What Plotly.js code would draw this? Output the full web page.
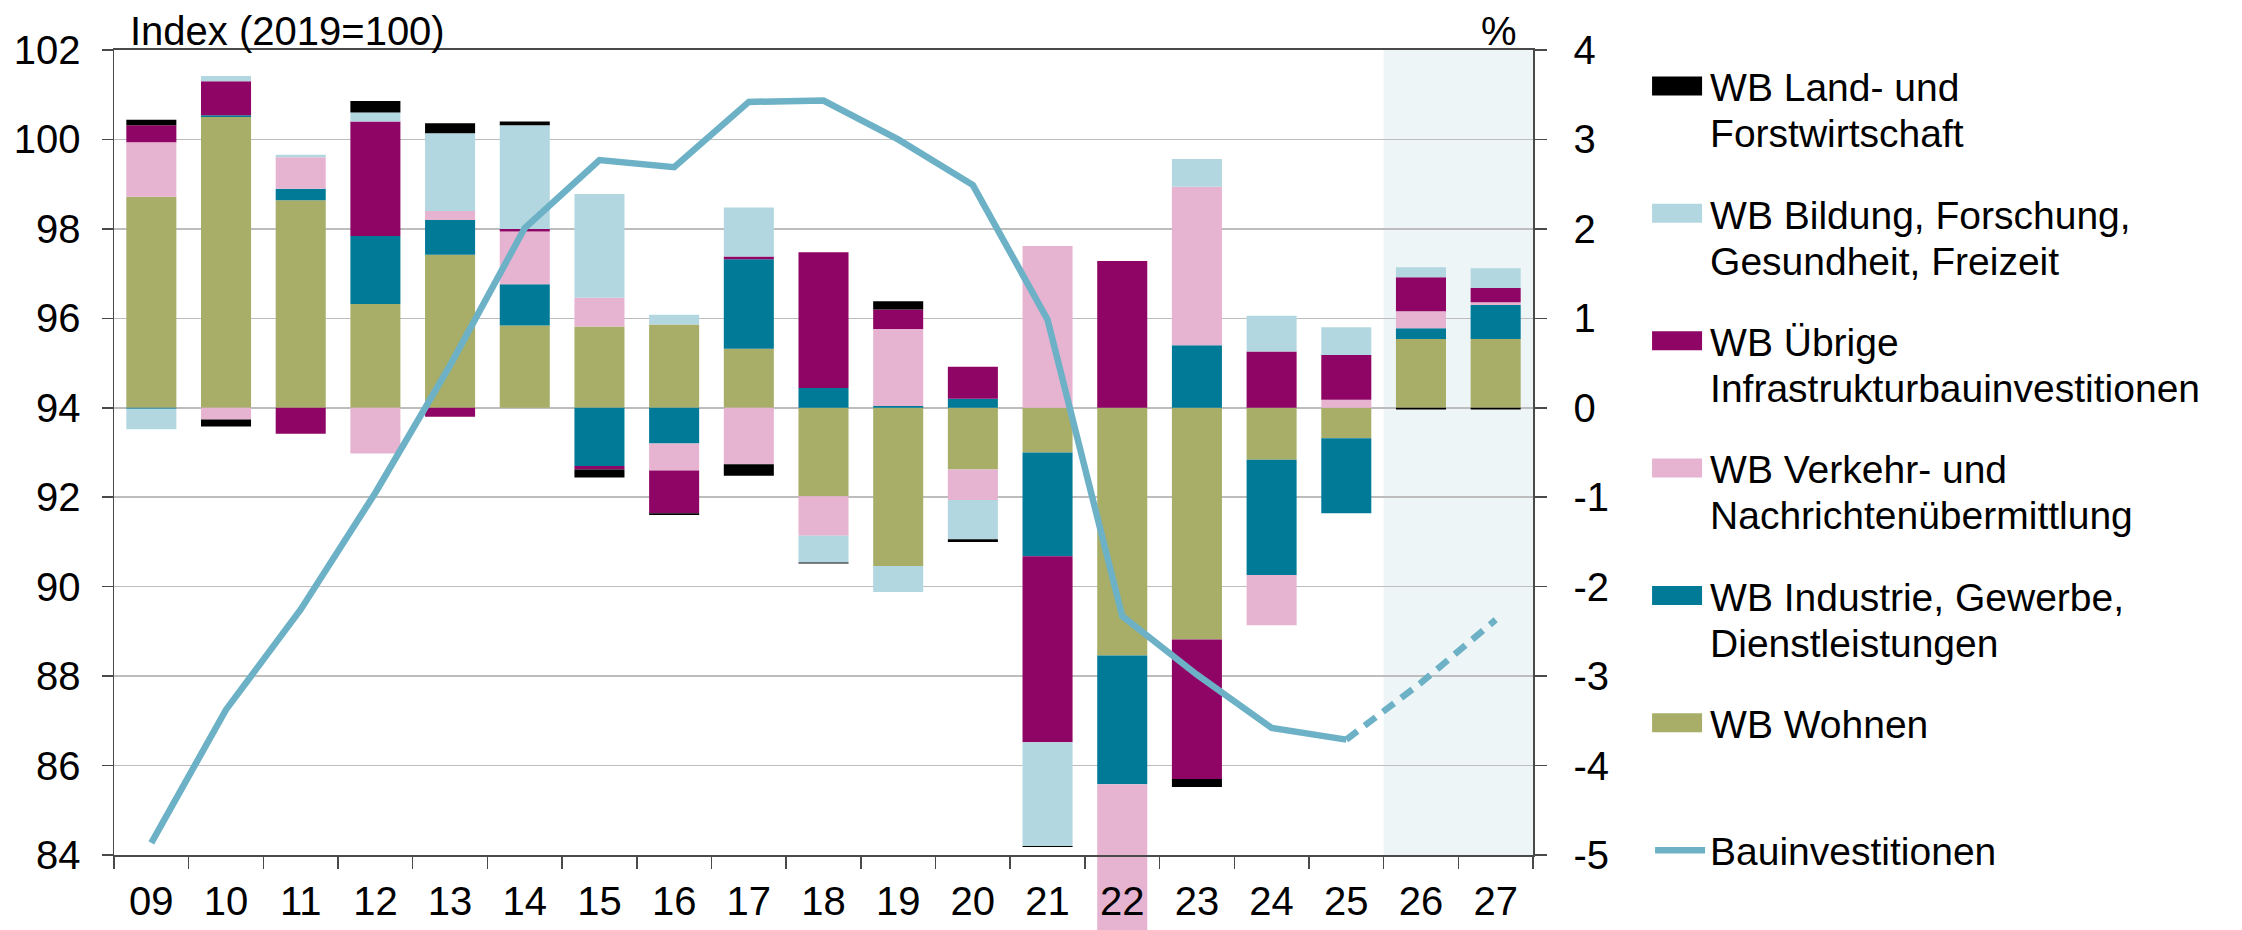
<!DOCTYPE html>
<html>
<head>
<meta charset="utf-8">
<script src="https://cdn.plot.ly/plotly-3.0.1.min.js"></script>
<style>
  html, body { margin: 0; padding: 0; background: #ffffff; overflow: hidden; }
  #chart { width: 2242px; height: 930px; }
</style>
</head>
<body>
<div id="chart"></div>
<script>
// ---- Data ----
const years = ['09','10','11','12','13','14','15','16','17','18','19','20','21','22','23','24','25','26','27'];

// Contributions to the change of construction investment, percentage points (right axis)
const wohnen    = [2.36, 3.25, 2.32, 1.16, 1.71, 0.92, 0.91, 0.93, 0.66, -0.99, -1.77, -0.69, -0.50, -2.77, -2.59, -0.58, -0.34, 0.77, 0.77];
const industrie = [-0.01, 0.02, 0.13, 0.76, 0.39, 0.46, -0.65, -0.40, 1.00, 0.22, 0.02, 0.10, -1.16, -1.44, 0.70, -1.29, -0.84, 0.12, 0.38];
const verkehr   = [0.61, -0.13, 0.35, -0.51, 0.10, 0.59, 0.32, -0.30, -0.63, -0.44, 0.86, -0.34, 1.81, -4.30, 1.77, -0.56, 0.09, 0.19, 0.03];
const uebrige   = [0.19, 0.38, -0.29, 1.28, -0.10, 0.03, -0.04, -0.48, 0.03, 1.52, 0.22, 0.36, -2.08, 1.64, -1.56, 0.63, 0.50, 0.38, 0.16];
const bildung   = [-0.23, 0.06, 0.03, 0.10, 0.87, 1.16, 1.16, 0.11, 0.55, -0.30, -0.29, -0.44, -1.16, 0.00, 0.31, 0.40, 0.31, 0.11, 0.22];
const land      = [0.06, -0.08, 0.00, 0.13, 0.11, 0.04, -0.09, -0.02, -0.13, -0.01, 0.09, -0.03, -0.01, 0.00, -0.09, 0.00, 0.00, -0.02, -0.02];

// Construction investment index, 2019 = 100 (left axis)
const bauinv = [84.27, 87.25, 89.49, 92.10, 94.95, 98.02, 99.54, 99.38, 100.84, 100.87, 100.00, 98.98, 95.97, 89.34, 88.03, 86.84, 86.58, 87.85, 89.26];
const lastActual = '25';           // forecast (dashed) after this year
const forecastYears = ['26','27']; // shaded forecast area

const pctTicks = [-5, -4, -3, -2, -1, 0, 1, 2, 3, 4];
const pctLabels = pctTicks.map(v => String(v));
const idxTicks = [84, 86, 88, 90, 92, 94, 96, 98, 100, 102];

const seriesNames = {
  land: 'WB Land- und<br>Forstwirtschaft',
  bildung: 'WB Bildung, Forschung,<br>Gesundheit, Freizeit',
  uebrige: 'WB Übrige<br>Infrastrukturbauinvestitionen',
  verkehr: 'WB Verkehr- und<br>Nachrichtenübermittlung',
  industrie: 'WB Industrie, Gewerbe,<br>Dienstleistungen',
  wohnen: 'WB Wohnen<br>\u00a0',
  line: 'Bauinvestitionen'
};
const legendRanks = { land: 1, bildung: 2, uebrige: 3, verkehr: 4, industrie: 5, wohnen: 6, line: 7 };

// ---- Styles ----
const colors = {
  wohnen: '#a8ae67', industrie: '#017a98', verkehr: '#e6b3d1',
  uebrige: '#8f0566', bildung: '#b3d7e0', land: '#000000', line: '#6db1c6'
};

const cut = years.indexOf(lastActual);
const solid = bauinv.map((v, i) => i <= cut ? v : null);
const dashed = bauinv.map((v, i) => i >= cut ? v : null);

function barTrace(key, vals, extra) {
  return Object.assign({
    type: 'bar', x: years, y: vals, name: seriesNames[key],
    legendgroup: key, legendrank: legendRanks[key],
    marker: { color: colors[key], line: { width: 0 } },
    xaxis: 'x', yaxis: 'y', hoverinfo: 'skip'
  }, extra || {});
}

const data = [
  barTrace('wohnen', wohnen),
  barTrace('industrie', industrie),
  barTrace('verkehr', verkehr, { cliponaxis: false }),
  barTrace('uebrige', uebrige),
  barTrace('bildung', bildung),
  barTrace('land', land),
  { type: 'scatter', mode: 'lines', x: years, y: solid, name: seriesNames.line, legendgroup: 'line', legendrank: legendRanks.line,
    line: { color: colors.line, width: 6.5 }, xaxis: 'x', yaxis: 'y2', hoverinfo: 'skip' },
  { type: 'scatter', mode: 'lines', x: years, y: dashed, name: 'Bauinvestitionen (Prognose)', legendgroup: 'line', legendrank: legendRanks.line,
    showlegend: false, line: { color: colors.line, width: 6.5, dash: '14px,9px' }, xaxis: 'x', yaxis: 'y2', hoverinfo: 'skip' }
];

const axisColor = '#4a4a4a';
const fontFamily = 'Liberation Sans, Arial, Helvetica, sans-serif';

const layout = {
  width: 2242, height: 930,
  margin: { l: 114, r: 709, t: 50, b: 75, pad: 0 },
  paper_bgcolor: '#ffffff', plot_bgcolor: '#ffffff',
  font: { family: fontFamily, size: 40, color: '#000000' },
  barmode: 'relative', bargap: 0.33,
  showlegend: true,
  xaxis: {
    type: 'category', categoryorder: 'array', categoryarray: years,
    tickson: 'boundaries', ticks: 'outside', ticklen: 12, tickwidth: 1.5, tickcolor: axisColor,
    showline: true, linecolor: axisColor, linewidth: 2, mirror: true,
    showgrid: false, zeroline: false, ticklabelstandoff: 10,
    tickfont: { size: 40, color: '#000' }, fixedrange: true
  },
  yaxis: {
    side: 'right', range: [-5, 4], tickvals: pctTicks, ticktext: pctLabels,
    ticks: 'outside', ticklen: 12, tickwidth: 1.5, tickcolor: axisColor,
    showline: true, linecolor: axisColor, linewidth: 1.5,
    showgrid: true, gridcolor: '#bdbdbd', gridwidth: 1.5, zeroline: false,
    ticklabelstandoff: 19, tickfont: { size: 40, color: '#000' }, fixedrange: true
  },
  yaxis2: {
    overlaying: 'y', side: 'left', range: [84, 102], tickvals: idxTicks,
    ticks: 'outside', ticklen: 11, tickwidth: 1.5, tickcolor: axisColor,
    showline: true, linecolor: axisColor, linewidth: 1.5,
    showgrid: false, zeroline: false,
    ticklabelstandoff: 13, tickfont: { size: 40, color: '#000' }, fixedrange: true
  },
  legend: {
    x: 1.0825, xanchor: 'left', y: 0.995, yanchor: 'top',
    traceorder: 'grouped', tracegroupgap: 23, valign: 'top', maxheight: 920,
    itemwidth: 50, font: { size: 39, color: '#000' }, bgcolor: 'rgba(0,0,0,0)', borderwidth: 0
  },
  shapes: [{
    type: 'rect', xref: 'x', yref: 'paper',
    x0: years.indexOf(forecastYears[0]) - 0.5, x1: years.indexOf(forecastYears[forecastYears.length - 1]) + 0.5,
    y0: 0, y1: 1, fillcolor: '#edf5f7', line: { width: 0 }, layer: 'below'
  }],
  annotations: [
    { text: 'Index (2019=100)', xref: 'paper', yref: 'paper', x: 0.0099, y: 1, xanchor: 'left', yanchor: 'bottom',
      showarrow: false, font: { size: 40, color: '#000' }, yshift: -5 },
    { text: '%', xref: 'paper', yref: 'paper', x: 0.99, y: 1, xanchor: 'right', yanchor: 'bottom',
      showarrow: false, font: { size: 40, color: '#000' }, yshift: -5 }
  ]
};

Plotly.newPlot('chart', data, layout, { staticPlot: true, displayModeBar: false, responsive: false }).then(function (gd) {
  // widen legend swatches as in the reference
  gd.querySelectorAll('.legend .traces').forEach(function (tr) {
    const dd = tr.__data__;
    const trace = dd && dd[0] && dd[0].trace;
    if (!trace) return;
    if (trace.type === 'bar') {
      tr.querySelectorAll('.legendpoints path').forEach(function (p) {
        p.setAttribute('d', 'M2,-9.5H52V9.5H2Z');
        p.removeAttribute('transform');
      });
    } else {
      tr.querySelectorAll('.legendpoints path.js-line').forEach(function (p) {
        p.setAttribute('d', 'M2,0H52');
        p.style.strokeLinecap = 'round';
      });
    }
  });
  // tighter line spacing inside legend entries
  gd.querySelectorAll('.legend .legendtext tspan.line').forEach(function (t) {
    if (t.getAttribute('dy') === '1.3em') t.setAttribute('dy', '1.18em');
  });
  // let the bar that runs past the lower axis limit (2022) overflow like in the reference
  gd.querySelectorAll('.cartesianlayer .barlayer').forEach(function (bl) {
    let el = bl;
    while (el && !el.classList.contains('cartesianlayer')) {
      if (el.hasAttribute && el.hasAttribute('clip-path')) el.removeAttribute('clip-path');
      el = el.parentNode;
    }
    bl.querySelectorAll('[clip-path]').forEach(function (c) { c.removeAttribute('clip-path'); });
  });
});
</script>
</body>
</html>
